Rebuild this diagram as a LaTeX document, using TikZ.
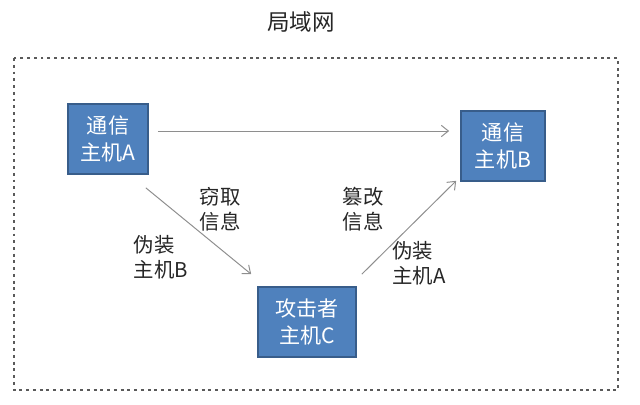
\documentclass[tikz,border=0pt]{standalone}
\usepackage{xcolor}
\usepackage{fontspec}
\setmainfont{Noto Sans CJK SC}
\usepackage{tikz}
\usetikzlibrary{positioning,arrows.meta,calc}

\definecolor{hostfill}{HTML}{4F81BD}
\definecolor{hostline}{HTML}{385D8A}
\definecolor{arrgray}{HTML}{8E8E8E}
\definecolor{lanline}{HTML}{5A5A5A}

\tikzset{
  host/.style={draw=hostline, line width=1.2pt, fill=hostfill, text=white,
    rectangle, align=center, inner sep=0pt,
    font=\fontsize{15}{19}\selectfont},
  arr/.style={draw=arrgray, line width=0.7pt, -{Straight Barb[length=5pt,width=8pt]}},
  lbl/.style={align=left, inner sep=0pt, text=black!85,
    font=\fontsize{14.5}{17.5}\selectfont}
}

\begin{document}
\begin{tikzpicture}[x=0.025cm, y=-0.025cm]
    \useasboundingbox (0,0) rectangle (640,404);

    %rete locale
    \node[font=\fontsize{16}{18}\selectfont, text=black!85] (lan) at (301,22) {局域网};
    \draw[lanline, line width=2pt, dash pattern=on 2pt off 2.8pt] (14,58) rectangle (618,390);

    %host
    \node[host, minimum width=80*0.025cm, minimum height=70*0.025cm] (A) at (108,139) {通信\\主机A};
    \node[host, minimum width=84*0.025cm, minimum height=70*0.025cm] (B) at (503,146) {通信\\主机B};
    \node[host, minimum width=98*0.025cm, minimum height=70*0.025cm] (C) at (307,322) {攻击者\\主机C};

    %frecce
    \draw[arr] ($(A.east)+(9,-8)$) -- ($(B.west)+(-11,-15)$);
    \draw[arr] ($(A.south east)+(-3,13)$) -- ($(C.north west)+(-6,-12)$);
    \draw[arr] ($(C.north east)+(5,-12)$) -- ($(B.south west)+(-4,-1)$);

    %etichette
    \node[lbl] (steal) at (220,209) {窃取\\信息};
    \node[lbl] (fakeB) at (161,257) {伪装\\主机B};
    \node[lbl] (alter) at (363,209) {篡改\\信息};
    \node[lbl] (fakeA) at (419,263) {伪装\\主机A};
\end{tikzpicture}
\end{document}
